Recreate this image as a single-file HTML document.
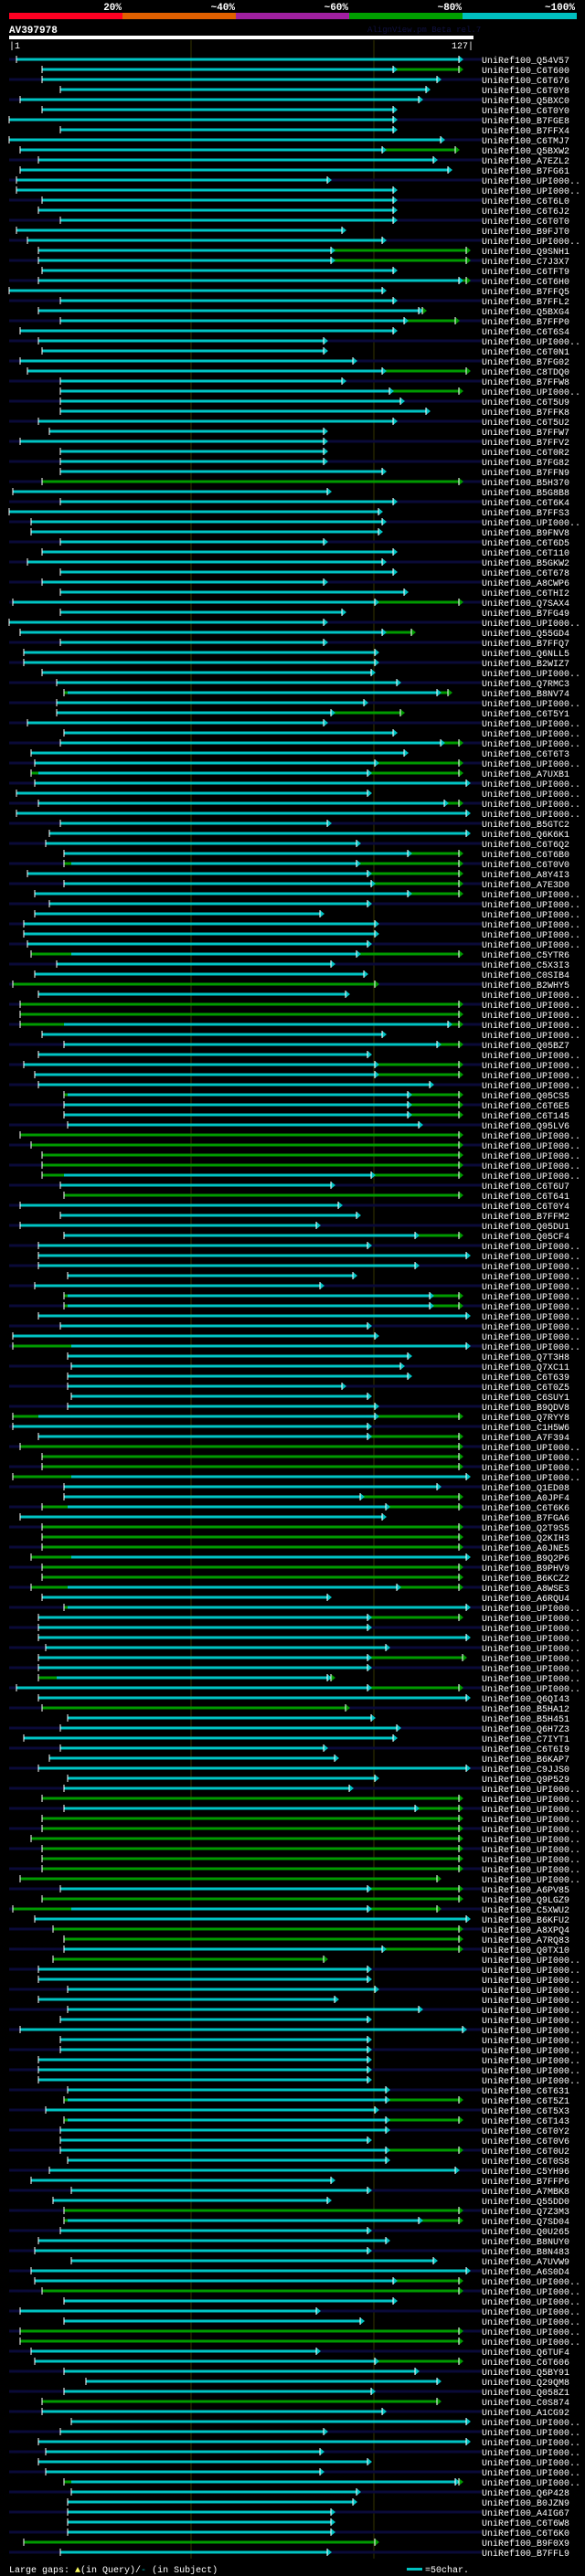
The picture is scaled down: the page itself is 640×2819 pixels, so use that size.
<!DOCTYPE html>
<html><head><meta charset="utf-8">
<style>
html,body{margin:0;padding:0;background:#000;}
svg{display:block;}
text{font-family:"Liberation Mono",monospace;}
</style></head>
<body>
<svg id="chart" width="640" height="2819" viewBox="0 0 640 2819" xmlns="http://www.w3.org/2000/svg">
<rect x="0" y="0" width="640" height="2819" fill="#000"/>
<g>
<rect x="10" y="14" width="124" height="7" fill="#ff0022"/>
<rect x="134" y="14" width="124" height="7" fill="#e06000"/>
<rect x="258" y="14" width="124" height="7" fill="#a020a0"/>
<rect x="382" y="14" width="124" height="7" fill="#00a000"/>
<rect x="506" y="14" width="125" height="7" fill="#00c0c0"/>
<text x="133" y="11" fill="#fff" font-size="11" font-weight="bold" text-anchor="end">20%</text>
<text x="257" y="11" fill="#fff" font-size="11" font-weight="bold" text-anchor="end">~40%</text>
<text x="381" y="11" fill="#fff" font-size="11" font-weight="bold" text-anchor="end">~60%</text>
<text x="505" y="11" fill="#fff" font-size="11" font-weight="bold" text-anchor="end">~80%</text>
<text x="629" y="11" fill="#fff" font-size="11" font-weight="bold" text-anchor="end">~100%</text>
</g>
<text x="10" y="36" fill="#fff" font-size="11" font-weight="bold">AV397978</text>
<text x="402" y="35" fill="#101040" font-size="9">AlignView.pm Beta rel.7</text>
<rect x="10" y="39" width="508" height="4" fill="#fff"/>
<text x="10" y="53" fill="#fff" font-size="10">|1</text>
<text x="518" y="53" fill="#fff" font-size="10" text-anchor="end">127|</text>
<line x1="209" y1="44" x2="209" y2="2800" stroke="#333300" stroke-width="1"/>
<line x1="409" y1="44" x2="409" y2="2800" stroke="#333300" stroke-width="1"/>
<g id="rows"></g>
<g>
<text x="10" y="2815" fill="#fff" font-size="10">Large gaps: <tspan fill="#ffff60">▲</tspan>(in Query)/<tspan fill="#00c0c0">-</tspan> (in Subject)</text>
<rect x="445" y="2810" width="17" height="3" fill="#00c0c0"/>
<text x="465" y="2815" fill="#fff" font-size="10">=50char.</text>
</g>
</svg>
<script>
const labels = ["Q54V57","C6T600","C6T676","C6T0Y8","Q5BXC0","C6T0Y0","B7FGE8","B7FFX4","C6TMJ7","Q5BXW2",
"A7EZL2","B7FG61","U","U","C6T6L0","C6T6J2","C6T0T0","B9FJT0","U","Q9SNH1",
"C7J3X7","C6TFT9","C6T6H0","B7FFQ5","B7FFL2","Q5BXG4","B7FFP0","C6T6S4","U","C6T0N1",
"B7FG02","C8TDQ0","B7FFW8","U","C6T5U9","B7FFK8","C6T5U2","B7FFW7","B7FFV2","C6T0R2",
"B7FG82","B7FFN9","B5H370","B5G8B8","C6T6K4","B7FFS3","U","B9FNV8","C6T6D5","C6T110",
"B5GKW2","C6T678","A8CWP6","C6THI2","Q7SAX4","B7FG49","U","Q55GD4","B7FFQ7","Q6NLL5",
"B2WIZ7","U","Q7RMC3","B8NV74","U","C6T5Y1","U","U","U","C6T6T3",
"U","A7UXB1","U","U","U","U","B5GTC2","Q6K6K1","C6T6Q2","C6T6B0",
"C6T0V0","A8Y4I3","A7E3D0","U","U","U","U","U","U","C5YTR6",
"C5X3I3","C0SIB4","B2WHY5","U","U","U","U","U","Q05BZ7","U",
"U","U","U","Q05CS5","C6T6E5","C6T145","Q95LV6","U","U","U",
"U","U","C6T6U7","C6T641","C6T0Y4","B7FFM2","Q05DU1","Q05CF4","U","U",
"U","U","U","U","U","U","U","U","U","Q7T3H8",
"Q7XC11","C6T639","C6T0Z5","C6SUY1","B9QDV8","Q7RYY8","C1H5W6","A7F394","U","U",
"U","U","Q1ED08","A0JPF4","C6T6K6","B7FGA6","Q2T9S5","Q2KIH3","A0JNE5","B9Q2P6",
"B9PHV9","B6KCZ2","A8WSE3","A6RQU4","U","U","U","U","U","U",
"U","U","U","Q6QI43","B5HA12","B5H451","Q6H7Z3","C7IYT1","C6T6I9","B6KAP7",
"C9JJS0","Q9P529","U","U","U","U","U","U","U","U",
"U","U","A6PV85","Q9LGZ9","C5XWU2","B6KFU2","A8XPQ4","A7RQ83","Q0TX10","U",
"U","U","U","U","U","U","U","U","U","U",
"U","U","C6T631","C6T5Z1","C6T5X3","C6T143","C6T0Y2","C6T0V6","C6T0U2","C6T0S8",
"C5YH96","B7FFP6","A7MBK8","Q55DD0","Q7Z3M3","Q7SD04","Q0U265","B8NUY0","B8N483","A7UVW9",
"A6S0D4","U","U","U","U","U","U","U","Q6TUF4","C6T606",
"Q5BY91","Q29QM8","Q058Z1","C0S874","A1CG92","U","U","U","U","U",
"U","U","Q6P428","B0JZN9","A4IG67","C6T6W8","C6T6K0","B9F0X9","B7FFL9"];
// hit tuples: [start, greenPrefixEnd(0=none), cyanEnd, greenTailEnd(0=none)] in residue units
const hits = [
[2,0,123,0],[9,0,105,123],[9,0,117,0],[14,0,114,0],[3,0,112,0],[9,0,105,0],[0,0,105,0],[14,0,105,0],[0,0,118,0],[3,0,102,122],
[8,0,116,0],[3,0,120,0],[2,0,87,0],[2,0,105,0],[9,0,105,0],[8,0,105,0],[14,0,105,0],[2,0,91,0],[5,0,102,0],[8,0,88,125],
[8,0,88,125],[9,0,105,0],[8,0,123,125],[0,0,102,0],[14,0,105,0],[8,0,112,113],[14,0,108,122],[3,0,105,0],[8,0,86,0],[9,0,86,0],
[3,0,94,0],[5,0,102,125],[14,0,91,0],[14,0,104,123],[14,0,107,0],[14,0,114,0],[8,0,105,0],[11,0,86,0],[3,0,86,0],[14,0,86,0],
[14,0,86,0],[14,0,102,0],[9,123,123,0],[1,0,87,0],[14,0,105,0],[0,0,101,0],[6,0,102,0],[6,0,101,0],[14,0,86,0],[9,0,105,0],
[5,0,102,0],[14,0,105,0],[9,0,86,0],[14,0,108,0],[1,0,100,123],[14,0,91,0],[0,0,86,0],[3,0,102,110],[14,0,86,0],[4,0,100,0],
[4,0,100,0],[9,0,99,0],[13,0,106,0],[15,16,117,120],[13,0,97,0],[13,0,88,107],[5,0,86,0],[15,0,105,0],[14,0,118,123],[6,0,108,0],
[7,0,100,123],[6,8,98,123],[7,0,125,0],[2,0,98,0],[8,0,119,123],[2,0,125,0],[14,0,87,0],[11,0,125,0],[10,0,95,0],[15,0,109,123],
[15,17,95,123],[5,0,98,123],[15,0,99,123],[7,0,109,123],[11,0,98,0],[7,0,85,0],[4,0,100,0],[4,0,100,0],[5,0,98,0],[6,17,95,123],
[13,0,88,0],[7,0,97,0],[1,100,100,0],[8,0,92,0],[3,123,123,0],[3,123,123,0],[3,15,120,123],[9,0,102,0],[15,0,117,123],[8,0,98,0],
[4,0,100,123],[7,0,100,123],[8,0,115,0],[15,16,109,123],[15,0,109,123],[15,0,109,123],[16,0,112,0],[3,123,123,0],[6,123,123,0],[9,123,123,0],
[9,123,123,0],[9,15,99,123],[14,0,88,0],[15,123,123,0],[3,0,90,0],[14,0,95,0],[3,0,84,0],[15,0,111,123],[8,0,98,0],[8,0,125,0],
[8,0,111,0],[16,0,94,0],[7,0,85,0],[15,16,115,123],[15,16,115,123],[8,0,125,0],[14,0,98,0],[1,0,100,0],[1,17,125,0],[16,0,109,0],
[17,0,107,0],[16,0,109,0],[16,0,91,0],[17,0,98,0],[16,0,100,0],[1,8,100,123],[1,0,98,0],[8,0,98,123],[3,123,123,0],[9,123,123,0],
[9,123,123,0],[1,17,125,0],[15,0,117,0],[15,0,96,123],[9,16,103,123],[3,0,102,0],[9,123,123,0],[9,123,123,0],[9,123,123,0],[6,17,125,0],
[9,123,123,0],[9,123,123,0],[6,16,106,123],[9,0,87,0],[15,16,125,0],[8,0,98,123],[8,0,98,0],[8,0,125,0],[10,0,103,0],[8,0,98,124],
[8,0,98,0],[8,13,87,88],[2,0,98,123],[8,0,125,0],[9,92,92,0],[16,0,99,0],[14,0,106,0],[4,0,105,0],[14,0,86,0],[11,0,89,0],
[8,0,125,0],[16,0,100,0],[15,0,93,0],[9,123,123,0],[15,0,111,123],[9,123,123,0],[9,123,123,0],[6,123,123,0],[9,123,123,0],[9,123,123,0],
[9,123,123,0],[3,117,117,0],[14,0,98,123],[9,123,123,0],[1,17,98,117],[7,0,125,0],[12,123,123,0],[15,123,123,0],[15,0,102,123],[12,86,86,0],
[8,0,98,0],[8,0,98,0],[16,0,100,0],[8,0,89,0],[16,0,112,0],[14,0,98,0],[3,0,124,0],[14,0,98,0],[14,0,98,0],[8,0,98,0],
[8,0,98,0],[8,0,98,0],[16,0,103,0],[15,16,103,123],[10,0,100,0],[15,16,103,123],[14,0,103,0],[14,0,98,0],[14,0,103,123],[16,0,103,0],
[11,0,122,0],[6,0,88,0],[17,0,98,0],[12,0,87,0],[15,123,123,0],[15,16,112,123],[14,0,98,0],[8,0,103,0],[7,0,98,0],[17,0,116,0],
[6,0,125,0],[7,0,105,123],[9,123,123,0],[15,0,105,0],[3,0,84,0],[15,0,96,0],[3,123,123,0],[3,123,123,0],[6,0,84,0],[7,0,100,123],
[15,0,111,0],[21,0,117,0],[15,0,99,0],[9,117,117,0],[9,0,102,0],[17,0,125,0],[14,0,86,0],[8,0,125,0],[10,0,85,0],[8,0,98,0],
[10,0,85,0],[15,17,122,123],[17,0,95,0],[16,0,94,0],[16,0,88,0],[16,0,88,0],[16,0,88,0],[4,100,100,0],[14,0,87,0]
];
const starts = hits.map(h => h[0]);
const prefixEnds = hits.map(h => h[1]);
const cyanEnds = hits.map(h => h[2]);
const tailEnds = hits.map(h => h[3]);

const NS = "http://www.w3.org/2000/svg";
const CYAN = "#00c4c4", GREEN = "#009a00", NAVY = "#0a0a38";
function xScale(v){ return 10 + v * 4; }
function yRow(i){ return 65 + i * 11; }
const root = document.getElementById("rows");
function mk(tag, attrs){ const e = document.createElementNS(NS, tag); for (const k in attrs) e.setAttribute(k, attrs[k]); return e; }
function seg(g, a, b, y, color){
  if (b <= a) return;
  const r = mk("rect", {x: xScale(a), y: y - 1.5, width: xScale(b) - xScale(a), height: 3, fill: color});
  
  
  g.appendChild(r);
}
function arrow(g, v, y, color){
  const x = xScale(v);
  const p = mk("polygon", {points: `${x},${y-4} ${x+5},${y} ${x},${y+4}`, fill: color});
  
  
  g.appendChild(p);
  const l = mk("rect", {x: x - 0.5, y: y - 4, width: 1, height: 8, fill: "#fff"});
  
  
  g.appendChild(l);
}
for (let i = 0; i < labels.length; i++){
  const y = yRow(i);
  const g = mk("g", {});
  
  
  if (i % 2 === 0){
    const bg = mk("rect", {x: 10, y: y - 1.5, width: 517, height: 3, fill: NAVY});
    
    
    g.appendChild(bg);
  }
  const s = starts[i], gp = prefixEnds[i], c = cyanEnds[i], t = tailEnds[i];
  if (gp){ seg(g, s, gp, y, GREEN); seg(g, gp, c, y, CYAN); }
  else seg(g, s, c, y, CYAN);
  if (t){ seg(g, c, t, y, GREEN); }
  if (gp && gp >= c && !t) arrow(g, c, y, GREEN);
  else arrow(g, c, y, CYAN);
  if (t) arrow(g, t, y, GREEN);
  const tick = mk("rect", {x: xScale(s) - 0.5, y: y - 4, width: 1, height: 8, fill: "#fff"});
  
  
  g.appendChild(tick);
  const lab = mk("text", {x: 527, y: y + 4, fill: "#fff", "font-size": 10});
  
  
  lab.textContent = labels[i] === "U" ? "UniRef100_UPI000.." : "UniRef100_" + labels[i];
  g.appendChild(lab);
  root.appendChild(g);
}
</script>
</body></html>
